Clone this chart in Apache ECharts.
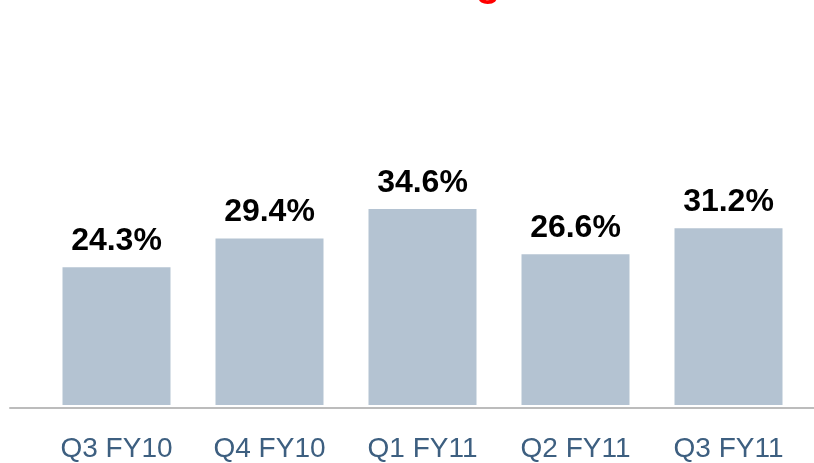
<!DOCTYPE html>
<html>
<head>
<meta charset="utf-8">
<script src="https://cdn.jsdelivr.net/npm/echarts@6/dist/echarts.min.js"></script>
<style>html,body{margin:0;padding:0;background:#fff}#c{width:814px;height:463px}</style>
</head>
<body>
<div id="c"></div>
<script>
var categories = ['Q3 FY10', 'Q4 FY10', 'Q1 FY11', 'Q2 FY11', 'Q3 FY11'];
var values = [24.3, 29.4, 34.6, 26.6, 31.2];
var titleText = 'Gross Margin';

var chart = echarts.init(document.getElementById('c'));
chart.setOption({
  animation: false,
  backgroundColor: '#ffffff',
  title: {
    text: titleText,
    left: 'center',
    top: -40,
    textStyle: { color: '#ff0000', fontSize: 40, fontWeight: 'bold', fontFamily: 'Liberation Sans, Arial, sans-serif' }
  },
  grid: [
    { left: 40, right: 9, top: 65, bottom: 55 },
    { left: 10, right: 0, top: 65, bottom: 55 }
  ],
  xAxis: [
    {
      type: 'category', gridIndex: 0, data: categories,
      axisLine: { show: false }, axisTick: { show: false },
      axisLabel: { margin: 30, fontSize: 28, color: '#3d5f80', fontFamily: 'Liberation Sans, Arial, sans-serif' }
    },
    {
      type: 'value', gridIndex: 1, min: 0, max: 1,
      axisLine: { show: true, lineStyle: { color: '#bcbcbc', width: 2 } },
      axisTick: { show: false }, axisLabel: { show: false }, splitLine: { show: false }
    }
  ],
  yAxis: [
    { type: 'value', gridIndex: 0, min: 0, max: 60, show: false, splitLine: { show: false } },
    { type: 'value', gridIndex: 1, min: 0, max: 1, show: false }
  ],
  series: [{
    type: 'bar', xAxisIndex: 0, yAxisIndex: 0, data: values, barWidth: 108,
    itemStyle: { color: '#b4c3d2' },
    label: {
      show: true, position: 'top', distance: 10, formatter: '{c}%',
      fontSize: 32, fontWeight: 'bold', color: '#000000', fontFamily: 'Liberation Sans, Arial, sans-serif'
    }
  }]
});
</script>
</body>
</html>
